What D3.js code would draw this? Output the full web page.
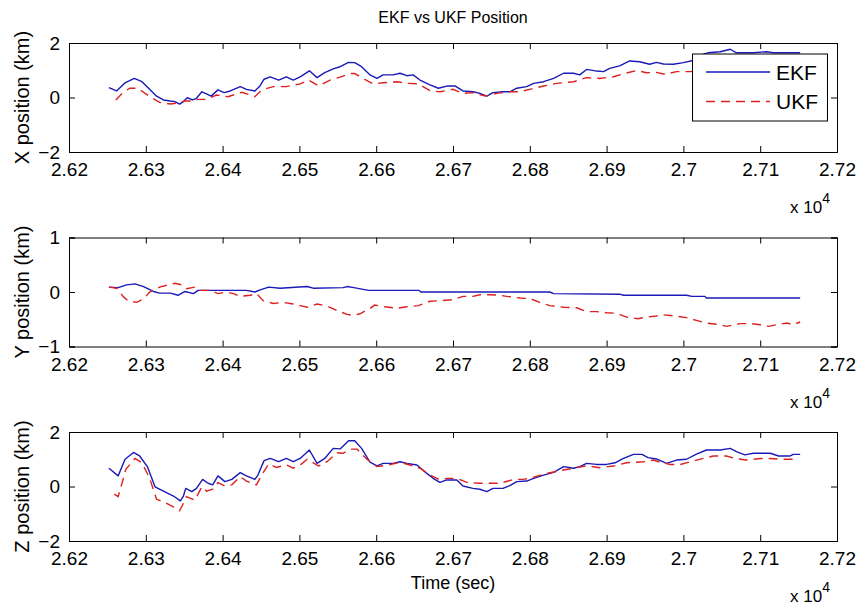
<!DOCTYPE html>
<html>
<head>
<meta charset="utf-8">
<script src="https://cdn.jsdelivr.net/npm/d3@7"></script>
<style>
  body { margin: 0; background: #fff; }
  svg { display: block; }
  text { font-family: "Liberation Sans", Arial, Helvetica, sans-serif; fill: #000; }
</style>
</head>
<body>
<svg id="fig" width="861" height="611"></svg>
<script>
// Position estimates, [time (s), position (km)]
const xEKF = [
  [26252,0.36],[26262,0.24],[26273,0.54],[26285,0.70],[26295,0.58],[26305,0.30],[26314,0.05],[26323,-0.09],
  [26332,-0.13],[26338,-0.15],[26344,-0.24],[26349,-0.15],[26354,-0.01],[26361,-0.09],[26366,-0.03],[26373,0.21],
  [26379,0.13],[26385,0.05],[26394,0.28],[26402,0.18],[26410,0.24],[26423,0.40],[26431,0.30],[26442,0.24],
  [26448,0.40],[26454,0.67],[26462,0.76],[26473,0.64],[26483,0.76],[26492,0.64],[26501,0.76],[26513,0.98],
  [26523,0.73],[26533,0.91],[26544,1.05],[26553,1.13],[26564,1.29],[26572,1.28],[26581,1.13],[26592,0.83],
  [26601,0.70],[26609,0.83],[26622,0.83],[26631,0.89],[26640,0.80],[26648,0.83],[26657,0.64],[26670,0.46],
  [26681,0.34],[26692,0.42],[26703,0.42],[26713,0.24],[26726,0.21],[26735,0.15],[26744,0.05],[26752,0.18],
  [26765,0.21],[26774,0.21],[26783,0.34],[26796,0.40],[26805,0.52],[26818,0.58],[26831,0.70],[26844,0.89],
  [26857,0.89],[26865,0.83],[26874,1.03],[26887,0.97],[26896,0.95],[26904,1.07],[26917,1.16],[26930,1.34],
  [26943,1.31],[26956,1.22],[26965,1.29],[26974,1.23],[26987,1.22],[27000,1.28],[27011,1.35],[27022,1.55],
  [27032,1.64],[27048,1.68],[27061,1.77],[27069,1.64],[27091,1.64],[27108,1.68],[27117,1.64],[27152,1.64]
];
const xUKF = [
  [26261,-0.09],[26269,0.15],[26279,0.34],[26290,0.34],[26299,0.15],[26309,-0.03],[26318,-0.18],[26332,-0.24],
  [26340,-0.21],[26351,-0.13],[26362,-0.13],[26368,-0.07],[26379,-0.07],[26392,0.09],[26407,0.03],[26425,0.19],
  [26436,0.09],[26442,0.03],[26451,0.28],[26466,0.40],[26483,0.40],[26501,0.50],[26512,0.64],[26525,0.43],
  [26540,0.64],[26553,0.75],[26566,0.88],[26572,0.88],[26583,0.70],[26596,0.50],[26609,0.54],[26627,0.58],
  [26640,0.52],[26655,0.50],[26670,0.25],[26683,0.21],[26700,0.30],[26713,0.15],[26726,0.18],[26742,0.05],
  [26757,0.15],[26774,0.21],[26787,0.21],[26800,0.30],[26818,0.42],[26835,0.52],[26857,0.58],[26874,0.73],
  [26891,0.70],[26909,0.76],[26922,0.87],[26939,0.99],[26952,0.91],[26965,0.92],[26976,0.85],[26991,0.95],
  [27009,0.95],[27030,1.02],[27060,1.08],[27090,1.05],[27120,1.10],[27152,1.08]
];
const yEKF = [
  [26252,0.09],[26264,0.08],[26275,0.13],[26286,0.15],[26297,0.10],[26310,0.01],[26318,-0.02],[26332,-0.02],
  [26342,-0.06],[26351,0.01],[26362,-0.03],[26368,0.03],[26384,0.03],[26431,0.03],[26442,0.00],[26449,0.04],
  [26460,0.09],[26475,0.07],[26510,0.10],[26518,0.07],[26557,0.08],[26562,0.10],[26571,0.08],[26590,0.03],
  [26656,0.03],[26658,0.00],[26826,0.00],[26831,-0.03],[26917,-0.04],[26922,-0.06],[27004,-0.06],[27011,-0.08],
  [27028,-0.08],[27030,-0.11],[27152,-0.11]
];
const yUKF = [
  [26252,0.09],[26262,0.07],[26266,0.00],[26271,-0.09],[26277,-0.16],[26288,-0.19],[26297,-0.13],[26305,0.00],
  [26318,0.09],[26332,0.14],[26338,0.16],[26347,0.13],[26353,0.06],[26364,0.09],[26371,0.03],[26384,0.03],
  [26394,-0.03],[26405,0.00],[26414,-0.03],[26423,-0.08],[26436,-0.06],[26444,-0.03],[26453,-0.16],[26466,-0.21],
  [26479,-0.19],[26492,-0.22],[26510,-0.28],[26523,-0.22],[26536,-0.26],[26549,-0.34],[26562,-0.41],[26570,-0.43],
  [26579,-0.40],[26592,-0.30],[26598,-0.24],[26611,-0.27],[26627,-0.30],[26640,-0.27],[26655,-0.25],[26670,-0.17],
  [26683,-0.16],[26700,-0.14],[26713,-0.08],[26726,-0.08],[26735,-0.05],[26748,-0.05],[26761,-0.06],[26770,-0.08],
  [26787,-0.11],[26800,-0.12],[26813,-0.19],[26826,-0.25],[26844,-0.28],[26861,-0.29],[26874,-0.36],[26887,-0.36],
  [26900,-0.38],[26913,-0.39],[26926,-0.46],[26941,-0.49],[26952,-0.46],[26965,-0.44],[26974,-0.42],[26989,-0.44],
  [27004,-0.47],[27017,-0.52],[27030,-0.57],[27048,-0.60],[27056,-0.63],[27074,-0.58],[27087,-0.58],[27100,-0.60],
  [27111,-0.63],[27121,-0.60],[27135,-0.57],[27143,-0.60],[27152,-0.55]
];
const zEKF = [
  [26252,0.67],[26264,0.39],[26273,1.00],[26284,1.25],[26292,1.12],[26302,0.73],[26312,-0.01],[26323,-0.17],
  [26336,-0.35],[26345,-0.53],[26349,-0.35],[26352,-0.07],[26360,-0.19],[26366,-0.07],[26374,0.26],[26381,0.12],
  [26387,0.06],[26394,0.39],[26403,0.18],[26412,0.26],[26423,0.51],[26431,0.39],[26442,0.26],[26446,0.42],
  [26454,0.95],[26462,1.03],[26473,0.91],[26483,1.03],[26492,0.91],[26501,1.03],[26513,1.34],[26523,0.85],
  [26533,1.03],[26544,1.40],[26553,1.38],[26564,1.68],[26572,1.68],[26581,1.40],[26592,0.89],[26601,0.76],
  [26609,0.85],[26622,0.85],[26631,0.91],[26640,0.85],[26653,0.79],[26666,0.48],[26674,0.30],[26683,0.15],
  [26692,0.24],[26705,0.24],[26713,0.02],[26726,-0.07],[26735,-0.10],[26744,-0.19],[26752,-0.07],[26765,-0.07],
  [26774,0.03],[26783,0.18],[26796,0.20],[26805,0.30],[26818,0.42],[26831,0.52],[26844,0.73],[26857,0.67],
  [26865,0.73],[26874,0.85],[26887,0.81],[26900,0.81],[26911,0.87],[26922,1.03],[26935,1.18],[26946,1.18],
  [26954,1.06],[26965,1.01],[26978,0.85],[26991,0.97],[27004,1.00],[27017,1.19],[27030,1.34],[27048,1.34],
  [27061,1.40],[27069,1.28],[27080,1.16],[27091,1.22],[27113,1.22],[27124,1.12],[27139,1.12],[27143,1.18],
  [27152,1.18]
];
const zUKF = [
  [26259,-0.28],[26264,-0.37],[26269,0.12],[26274,0.63],[26286,1.03],[26295,0.87],[26305,0.30],[26314,-0.47],
  [26323,-0.56],[26334,-0.72],[26344,-0.89],[26350,-0.56],[26353,-0.37],[26364,-0.50],[26373,-0.01],[26379,-0.17],
  [26387,-0.10],[26394,0.14],[26403,0.02],[26412,0.06],[26423,0.36],[26431,0.20],[26444,0.06],[26451,0.42],
  [26460,0.83],[26470,0.70],[26483,0.79],[26492,0.67],[26503,0.83],[26510,1.00],[26525,0.75],[26536,0.91],
  [26549,1.24],[26557,1.22],[26566,1.37],[26575,1.37],[26588,1.00],[26601,0.73],[26616,0.79],[26631,0.89],
  [26644,0.79],[26657,0.67],[26670,0.42],[26683,0.24],[26692,0.30],[26705,0.30],[26718,0.15],[26735,0.12],
  [26761,0.12],[26779,0.26],[26792,0.26],[26805,0.34],[26822,0.48],[26839,0.58],[26857,0.67],[26874,0.76],
  [26891,0.69],[26909,0.75],[26926,0.87],[26948,0.91],[26961,0.97],[26970,0.89],[26983,0.81],[26996,0.81],
  [27009,0.91],[27026,1.03],[27039,1.12],[27056,1.12],[27067,1.03],[27082,0.97],[27100,1.03],[27113,1.03],
  [27126,1.00],[27143,1.00]
];

// Axis ticks
const timeTicks = [26200, 26300, 26400, 26500, 26600, 26700, 26800, 26900, 27000, 27100, 27200];
const timeTickLabels = ["2.62", "2.63", "2.64", "2.65", "2.66", "2.67", "2.68", "2.69", "2.7", "2.71", "2.72"];
const xyzTicks = [-2, 0, 2];
const yTicksMid = [-1, 0, 1];
const seriesNames = ["EKF", "UKF"];

const EKF_COLOR = "#1a1ab8";
const UKF_COLOR = "#dd2020";
const FONT = 19;

const svg = d3.select("#fig");
svg.append("rect").attr("width", 861).attr("height", 611).attr("fill", "#fff");

const left = 69, right = 837, h = 109;
const x = d3.scaleLinear().domain([26200, 27200]).range([left, right]);

const panels = [
  { top: 43,    label: "X position (km)", domain: [-2, 2], ticks: xyzTicks,  ekf: xEKF, ukf: xUKF },
  { top: 237.5, label: "Y position (km)", domain: [-1, 1], ticks: yTicksMid, ekf: yEKF, ukf: yUKF },
  { top: 432,   label: "Z position (km)", domain: [-2, 2], ticks: xyzTicks,  ekf: zEKF, ukf: zUKF }
];

panels.forEach((p, i) => {
  const y = d3.scaleLinear().domain(p.domain).range([p.top + h, p.top]);
  const g = svg.append("g");

  const line = d3.line().x(d => x(d[0])).y(d => y(d[1]));

  g.append("path").datum(p.ekf).attr("d", line)
    .attr("fill", "none").attr("stroke", EKF_COLOR).attr("stroke-width", 1.4)
    .attr("stroke-linejoin", "round");
  g.append("path").datum(p.ukf).attr("d", line)
    .attr("fill", "none").attr("stroke", UKF_COLOR).attr("stroke-width", 1.4)
    .attr("stroke-dasharray", "9,6");

  // Box axes with inward ticks on every side
  const tickLen = 6;
  const fmt = (d, k) => timeTickLabels[k];
  g.append("g").attr("transform", `translate(0,${p.top + h})`)
    .call(d3.axisBottom(x).tickValues(timeTicks).tickSize(-tickLen).tickFormat(fmt).tickPadding(11));
  g.append("g").attr("transform", `translate(0,${p.top})`)
    .call(d3.axisTop(x).tickValues(timeTicks).tickSize(-tickLen).tickFormat(""));
  g.append("g").attr("transform", `translate(${left},0)`)
    .call(d3.axisLeft(y).tickValues(p.ticks).tickSize(-tickLen).tickFormat(d3.format("d")).tickPadding(9));
  g.append("g").attr("transform", `translate(${right},0)`)
    .call(d3.axisRight(y).tickValues(p.ticks).tickSize(-tickLen).tickFormat(""));

  g.selectAll(".domain").attr("stroke", "#000").attr("stroke-width", 1);
  g.selectAll(".tick line").attr("stroke", "#000");
  g.selectAll(".tick text").attr("font-size", FONT).attr("fill", "#1a1a1a")
    .style("font-family", '"Liberation Sans", Arial, sans-serif');

  // Y label
  g.append("text")
    .attr("transform", `translate(29,${p.top + h / 2}) rotate(-90)`)
    .attr("text-anchor", "middle").attr("font-size", FONT + 1).attr("fill", "#1a1a1a")
    .text(p.label);

  // Exponent note below the time axis
  const ex = g.append("text").attr("x", 790).attr("y", p.top + h + 61).attr("font-size", FONT - 2);
  ex.append("tspan").text("x 10");
  ex.append("tspan").attr("dy", -10).attr("font-size", FONT - 5).text("4");

  if (i === 0) {
    // Legend
    const lg = g.append("g");
    lg.append("rect").attr("x", 692.5).attr("y", 54).attr("width", 135).attr("height", 67)
      .attr("fill", "#fff").attr("stroke", "#000").attr("stroke-width", 1);
    [EKF_COLOR, UKF_COLOR].forEach((c, k) => {
      const ly = 72 + k * 29.5;
      lg.append("line").attr("x1", 706).attr("x2", 770).attr("y1", ly).attr("y2", ly)
        .attr("stroke", c).attr("stroke-width", 1.4)
        .attr("stroke-dasharray", k === 1 ? "9,6" : null);
      lg.append("text").attr("x", 776).attr("y", ly).attr("dy", "0.36em")
        .attr("font-size", FONT + 2).text(seriesNames[k]);
    });
  }
});

svg.append("text").attr("x", (left + right) / 2).attr("y", 23)
  .attr("text-anchor", "middle").attr("font-size", 16).text("EKF vs UKF Position");

svg.append("text").attr("x", (left + right) / 2).attr("y", 589)
  .attr("text-anchor", "middle").attr("font-size", 18).text("Time (sec)");
</script>
</body>
</html>
